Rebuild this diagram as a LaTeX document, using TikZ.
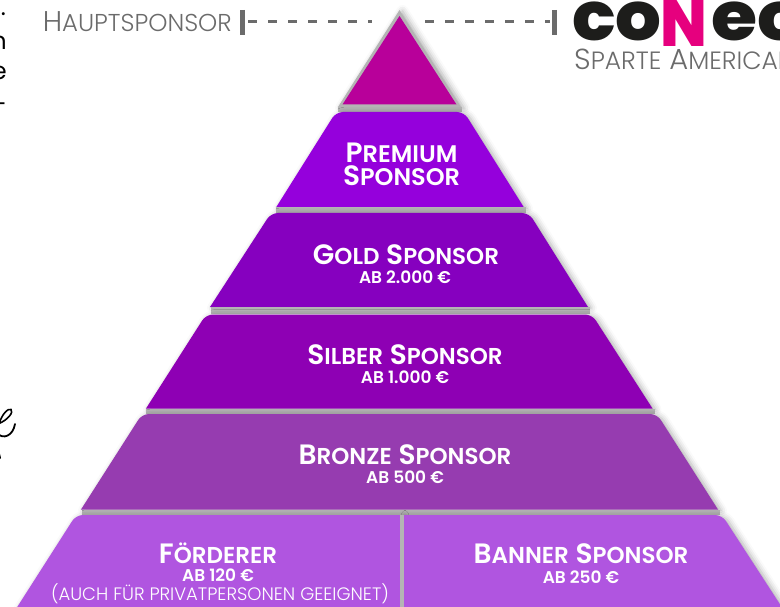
\documentclass[tikz,border=0pt]{standalone}
\usepackage{fontspec}
\setmainfont{Poppins}
\newfontfamily\medf{Poppins Medium}
\newfontfamily\semif{Poppins SemiBold}
\newfontfamily\lightf{Poppins Light}
\newfontfamily\heavyf{Poppins ExtraBold}
\usetikzlibrary{shadows.blur}
\definecolor{capc}{HTML}{B8009A}
\definecolor{premc}{HTML}{9500DC}
\definecolor{goldc}{HTML}{8600BF}
\definecolor{silc}{HTML}{8E00B4}
\definecolor{bronc}{HTML}{963CB0}
\definecolor{foerc}{HTML}{B055E0}
\definecolor{greyline}{HTML}{6B6B6B}
\definecolor{barc}{HTML}{B4B4B4}
\definecolor{pinkc}{HTML}{E6007E}
\definecolor{logoc}{HTML}{1D1D1B}
\tikzset{
 softshadow/.style={blur shadow={shadow xshift=3pt,shadow yshift=-1pt,shadow blur radius=6pt,shadow opacity=32}},
 bar/.style={fill=barc,draw=none},
 title/.style={text=white,font=\semif\fontsize{28}{28}\selectfont,align=center,inner sep=0pt},
 sub/.style={text=white,font=\semif\fontsize{17}{17}\selectfont,inner sep=0pt},
 lead/.style={line width=3pt,greyline,dash pattern=on 9pt off 11pt},
 tick/.style={line width=4.5pt,greyline},
 grey/.style={text=greyline,inner sep=0pt},
 logoletters/.style={inner sep=0pt,anchor=base west,text=logoc,font=\heavyf\fontsize{68}{68}\selectfont},
 cut/.style={anchor=base east,inner sep=0pt,font=\fontsize{24}{24}\selectfont},
}
\newcommand{\sck}[2]{{\fontsize{#1}{#1}\selectfont #2}}
\begin{document}
\begin{tikzpicture}[x=1pt,y=-1pt]
\useasboundingbox (0,0) rectangle (780,607);
\clip (0,0) rectangle (780,607);
% cap
\fill[barc,softshadow] (399.5,10) -- (461,107) -- (338,107) -- cycle;
\fill[capc] (399.5,16) -- (456.5,104.5) -- (342.5,104.5) -- cycle;
\fill[bar] (338,107) rectangle (462,112);
% premium
\path[fill=premc,softshadow] (276,207.5) [rounded corners=7pt] -- (336,112) -- (464,112) [sharp corners] -- (524,207.5) -- cycle;
\fill[bar] (276,207.5) rectangle (526,213);
% gold
\path[fill=goldc,softshadow] (210,307) [rounded corners=7pt] -- (271,213) -- (529,213) [sharp corners] -- (588,307) -- cycle;
\fill[bar] (211,307) rectangle (590,314);
% silver
\path[fill=silc,softshadow] (146,408.5) [rounded corners=7pt] -- (206,314.5) -- (592,314.5) [sharp corners] -- (652.5,408.5) -- cycle;
\fill[bar] (146,408.5) rectangle (655,414);
% bronze
\path[fill=bronc,softshadow] (81,509.5) [rounded corners=7pt] -- (142,414) -- (657,414) [sharp corners] -- (718,509.5) -- cycle;
\fill[bar] (82,509.5) rectangle (720,515);
% base
\path[fill=foerc,softshadow] (14,612) [rounded corners=7pt] -- (76,515) [sharp corners] -- (400,515) -- (400,612) -- cycle;
\path[fill=foerc,softshadow] (404,612) -- (404,515) [rounded corners=7pt] -- (722,515) [sharp corners] -- (785,612) -- cycle;
\fill[barc] (400,515) rectangle (404,607);
% texts
\node[title] (prem) at (401.5,164) {P\sck{24}{REMIUM}\\[-5pt]S\sck{24}{PONSOR}};
\node[title] (gold) at (406,255) {G\sck{23}{OLD} S\sck{23}{PONSOR}};
\node[sub] (goldp) at (405,277) {AB 2.000 €};
\node[title] (silb) at (405,355) {S\sck{23}{ILBER} S\sck{23}{PONSOR}};
\node[sub] (silbp) at (405,377) {AB 1.000 €};
\node[title] (bron) at (405,455) {B\sck{23}{RONZE} S\sck{23}{PONSOR}};
\node[sub] (bronp) at (405,477) {AB 500 €};
\node[title] (foer) at (218,553) {F\sck{23}{ÖRDERER}};
\node[sub] (foerp) at (218,575) {AB 120 €};
\node[text=white,inner sep=0pt,font=\lightf\fontsize{18}{18}\selectfont] (foern) at (220,594) {(AUCH FÜR PRIVATPERSONEN GEEIGNET)};
\node[title] (bann) at (581,554) {B\sck{23}{ANNER} S\sck{23}{PONSOR}};
\node[sub] (bannp) at (581,577) {AB 250 €};
% leader
\node[grey,font=\lightf\fontsize{28.5}{28.5}\selectfont,anchor=east] (haupt) at (232,22) {H\sck{24.4}{AUPTSPONSOR}};
\coordinate (la) at (248,22);
\coordinate (lb) at (372,22);
\coordinate (ra) at (425,22);
\coordinate (rb) at (550,22);
\coordinate (ta) at (242.5,10);
\coordinate (tb) at (242.5,35);
\coordinate (tc) at (554.5,10);
\coordinate (td) at (554.5,35);
\draw[lead] (la) -- (lb);
\draw[lead] (ra) -- (rb);
\draw[tick] (ta) -- (tb);
\draw[tick] (tc) -- (td);
% logo
\node[logoletters,xscale=1.06] (logoa) at (572,41) {co};
\node[logoletters,text=pinkc,xscale=.9] (logob) at (660,47) {N};
\node[logoletters,xscale=1.1] (logoc) at (711,41) {ec};
\node[grey,font=\lightf\fontsize{29}{29}\selectfont,anchor=base west] (sparte) at (574,70) {S\sck{25}{PARTE} A\sck{25}{MERICAN}};
% cropped text at the left
\node[cut] (f1) at (6,16) {.};
\node[cut] (f2) at (7,50) {n};
\node[cut] (f3) at (7,80) {e};
\node[cut] (f4) at (7,113) {-};
% script stroke
\draw[line width=1.6pt,black,line cap=round] (-1,424) .. controls (2,414) and (8,408) .. (11,409.5) .. controls (14,412) and (8,420) .. (-2,424);
\draw[line width=1.8pt,black,line cap=round] (-3,433) .. controls (3,440) and (13,436) .. (15,424);
\draw[line width=2pt,black,line cap=round] (-1,454) -- (0,458);
\end{tikzpicture}
\end{document}
